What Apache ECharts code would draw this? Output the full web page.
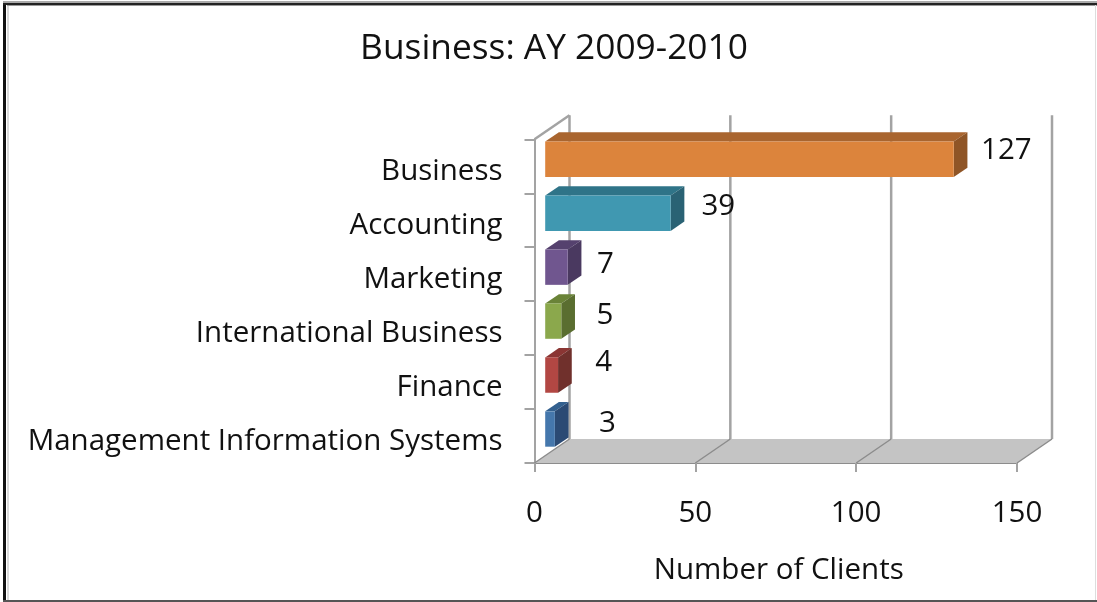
<!DOCTYPE html>
<html>
<head>
<meta charset="utf-8">
<style>html,body{margin:0;padding:0;background:#fff}#c{width:1097px;height:602px}</style>
<script src="https://cdn.jsdelivr.net/npm/echarts@6/dist/echarts.min.js"></script>
</head>
<body>
<div id="c"></div>
<script>
const chartTitle = 'Business: AY 2009-2010';
const xAxisTitle = 'Number of Clients';
const categories = ['Business', 'Accounting', 'Marketing', 'International Business', 'Finance', 'Management Information Systems'];
const clients = [127, 39, 7, 5, 4, 3];
const xTicks = [0, 50, 100, 150];

// styling only
const FONT = '"Open Sans"';
const INK = '#111';
const faces = [
  ['#DC843C', '#A9652F', '#8F5526'],
  ['#4098B1', '#2F7488', '#2A6274'],
  ['#70568F', '#55416E', '#4A3960'],
  ['#8BA84C', '#6A8338', '#5A6E30'],
  ['#B24743', '#8A3533', '#70302C'],
  ['#4577AC', '#33608F', '#2B4A74']
];
const labelNudge = [[39, -8.5], [34, -7], [24, -2.5], [30, -5.5], [32, -12], [39, -5]];
const WALL = [35, -24];
const GAP = [10.7, -7];
const BAR_DEPTH = [13.7, -9.3];
const LINE = '#a3a3a3';

function renderWall(params, api) {
  const cs = params.coordSys;
  const bottom = cs.y + cs.height, top = cs.y;
  const x = api.coord([api.value(0), 0])[0];
  const style = { stroke: LINE, lineWidth: 2.5, fill: null };
  const children = [
    { type: 'line', shape: { x1: x + WALL[0], y1: bottom + WALL[1], x2: x + WALL[0], y2: top + WALL[1] }, style },
    { type: 'line', shape: { x1: x, y1: bottom, x2: x + WALL[0], y2: bottom + WALL[1] }, style: { stroke: '#8c8c8c', lineWidth: 1.5 }, z2: 5 }
  ];
  if (params.dataIndex === 0) {
    children.unshift({ type: 'polygon', shape: { points: [
      [cs.x, bottom], [cs.x + cs.width, bottom], [cs.x + cs.width + WALL[0], bottom + WALL[1]], [cs.x + WALL[0], bottom + WALL[1]]
    ] }, style: { fill: '#c4c4c4' }, z2: -1 });
    children.push({ type: 'line', shape: { x1: cs.x, y1: top, x2: cs.x + WALL[0], y2: top + WALL[1] }, style });
  }
  return { type: 'group', children };
}

function renderBar(params, api) {
  const i = params.dataIndex;
  const base = api.coord([0, api.value(1)]);
  const end = api.coord([api.value(0), api.value(1)]);
  const h = api.size([0, 1])[1] * 0.655;
  const x0 = base[0] + GAP[0], x1 = end[0] + GAP[0];
  const yT = end[1] + GAP[1] - h / 2, yB = end[1] + GAP[1] + h / 2;
  const dx = BAR_DEPTH[0], dy = BAR_DEPTH[1];
  const f = faces[i];
  return { type: 'group', children: [
    { type: 'polygon', shape: { points: [[x0, yT], [x1, yT], [x1 + dx, yT + dy], [x0 + dx, yT + dy]] }, style: { fill: f[1] } },
    { type: 'polygon', shape: { points: [[x1, yT], [x1 + dx, yT + dy], [x1 + dx, yB + dy], [x1, yB]] }, style: { fill: f[2] } },
    { type: 'rect', shape: { x: x0, y: yT, width: x1 - x0, height: yB - yT }, style: { fill: f[0] } },
    { type: 'text', style: { text: String(api.value(0)), x: x1 + dx + labelNudge[i][0], y: end[1] + GAP[1] + labelNudge[i][1],
      align: 'center', verticalAlign: 'middle', font: '29.5px ' + FONT, fill: INK } }
  ] };
}

const chart = echarts.init(document.getElementById('c'), null, { renderer: 'canvas' });
chart.setOption({
  animation: false,
  backgroundColor: '#fff',
  title: { text: chartTitle, left: 549, textAlign: 'center', top: 26,
    textStyle: { fontFamily: FONT, fontSize: 35.3, fontWeight: 'normal', color: INK } },
  grid: { left: 534.5, right: 80, top: 139.3, bottom: 139 },
  xAxis: {
    type: 'value', min: 0, max: 150, interval: 50,
    name: xAxisTitle, nameLocation: 'middle', nameGap: 93,
    nameTextStyle: { fontFamily: FONT, fontSize: 29.5, color: INK, padding: [0, 0, 0, 6] },
    axisLine: { show: true, lineStyle: { color: '#8c8c8c', width: 2 } },
    axisTick: { show: true, length: 9, lineStyle: { color: LINE, width: 2 } },
    axisLabel: { margin: 36, fontFamily: FONT, fontSize: 29.5, color: INK },
    splitLine: { show: false }
  },
  yAxis: {
    type: 'category', data: categories, inverse: true,
    axisLine: { show: true, lineStyle: { color: LINE, width: 2 } },
    axisTick: { show: true, length: 10, lineStyle: { color: LINE, width: 2 } },
    axisLabel: { margin: 32, fontFamily: FONT, fontSize: 29.5, color: INK, verticalAlign: 'top', lineHeight: 11 },
    splitLine: { show: false }
  },
  graphic: [
    { type: 'rect', silent: true, z: 100, shape: { x: 3, y: 3, width: 3, height: 598 }, style: { fill: '#111' } },
    { type: 'rect', silent: true, z: 100, shape: { x: 7, y: 5, width: 2, height: 596 }, style: { fill: '#d9d9d9' } },
    { type: 'rect', silent: true, z: 100, shape: { x: 3, y: 3, width: 1094, height: 2 }, style: { fill: '#222' } },
    { type: 'rect', silent: true, z: 100, shape: { x: 3, y: 1, width: 1094, height: 2 }, style: { fill: '#aaa' } },
    { type: 'rect', silent: true, z: 100, shape: { x: 7, y: 5, width: 1090, height: 1 }, style: { fill: '#999' } },
    { type: 'rect', silent: true, z: 100, shape: { x: 3, y: 600, width: 1094, height: 2 }, style: { fill: '#555' } },
    { type: 'rect', silent: true, z: 100, shape: { x: 1095, y: 5, width: 1, height: 595 }, style: { fill: '#ddd' } }
  ],
  series: [
    { type: 'custom', coordinateSystem: 'cartesian2d', z: 1, silent: true, clip: false,
      data: xTicks.map(t => [t, 0]), encode: { x: 0, y: 1 }, renderItem: renderWall },
    { type: 'custom', coordinateSystem: 'cartesian2d', z: 3, silent: true, clip: false,
      data: clients.map((v, i) => [v, i]), encode: { x: 0, y: 1 }, renderItem: renderBar }
  ]
});
</script>
</body>
</html>
